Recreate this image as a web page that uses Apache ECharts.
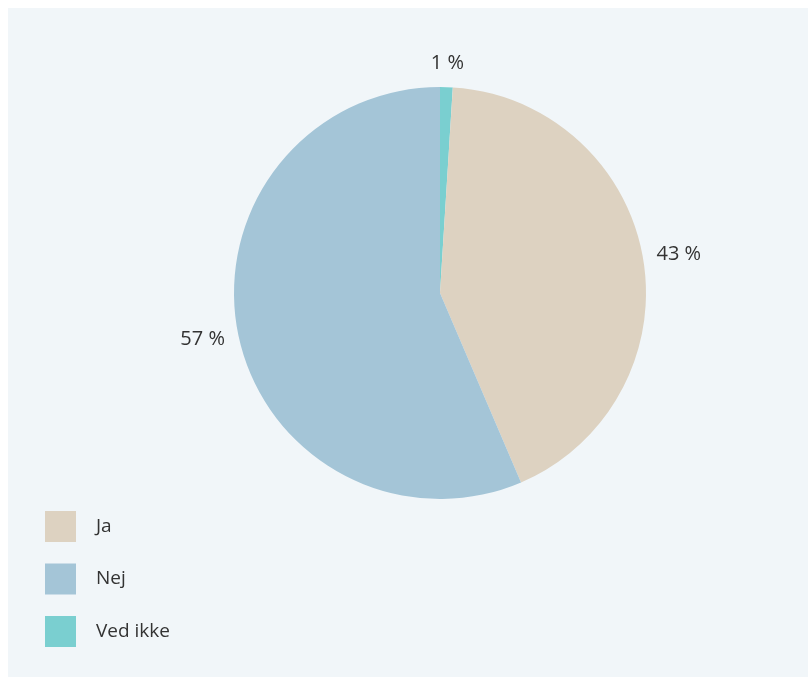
<!DOCTYPE html>
<html>
<head>
<meta charset="utf-8">
<script src="https://cdn.jsdelivr.net/npm/echarts@6/dist/echarts.min.js"></script>
<style>
  html, body { margin: 0; padding: 0; background: #ffffff; }
  #chart { position: absolute; left: 8px; top: 8px; width: 800px; height: 669px; background: #f1f6f9; }
</style>
</head>
<body>
<div id="chart"></div>
<script>
// Answers, in drawing order (clockwise from 12 o'clock)
const categories = ['Ved ikke', 'Ja', 'Nej'];
const shares = [1, 43, 57];
const colors = ['#7acfd0', '#ddd2c1', '#a4c5d7'];
const legendOrder = ['Ja', 'Nej', 'Ved ikke'];

const chart = echarts.init(document.getElementById('chart'), null, { renderer: 'canvas' });

// Centre each percentage label just outside the rim, on its slice's middle ray
const LABEL_GAP = 14;
function placeLabel(params) {
  const data = chart.getModel().getSeriesByIndex(0).getData();
  const lay = data.getItemLayout(params.dataIndex);
  const mid = (lay.startAngle + lay.endAngle) / 2;
  const ux = Math.cos(mid), uy = Math.sin(mid);
  const hw = params.labelRect.width / 2, hh = params.labelRect.height / 2;
  return {
    x: lay.cx + ux * (lay.r + LABEL_GAP + hw),
    y: lay.cy + uy * (lay.r + LABEL_GAP + hh),
    align: 'center',
    verticalAlign: 'middle'
  };
}

chart.setOption({
  backgroundColor: 'transparent',
  textStyle: { fontFamily: 'Open Sans, Noto Sans, sans-serif' },
  legend: {
    data: legendOrder,
    orient: 'vertical',
    left: 32,
    top: 498,
    icon: 'rect',
    itemWidth: 31,
    itemHeight: 31,
    itemGap: 21.5,
    textStyle: { fontSize: 19, color: '#333333', padding: [0, 0, 0, 15] }
  },
  series: [{
    type: 'pie',
    center: [432, 285],
    radius: [0, 206],
    startAngle: 90,
    clockwise: true,
    animation: false,
    silent: true,
    data: categories.map((name, i) => ({
      name: name,
      value: shares[i],
      itemStyle: { color: colors[i] }
    })),
    label: {
      show: true,
      position: 'outside',
      formatter: p => p.value + ' %',
      fontSize: 20,
      color: '#333333'
    },
    labelLine: { show: false, length: 16, length2: 0 },
    labelLayout: placeLabel,
    emphasis: { disabled: true }
  }]
});
</script>
</body>
</html>
